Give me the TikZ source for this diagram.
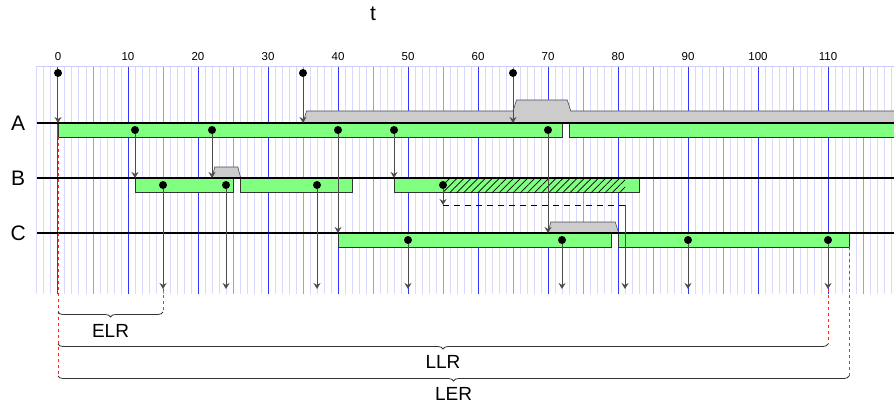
\documentclass[tikz,border=0pt]{standalone}
\usepackage{fontspec}
\setmainfont{Liberation Sans}
\usetikzlibrary{arrows.meta,decorations.pathreplacing,patterns.meta}

\begin{document}
\begin{tikzpicture}[x=7pt,y=-1pt,
  dot/.style={circle,fill,inner sep=0pt,minimum size=8pt},
  arr/.style={-{Stealth[length=6pt,width=7pt]},black!70,line width=1pt},
  bar/.style={draw=black!80,fill=green!50,line width=0.6pt},
  busy/.style={draw=black!70,fill=black!20,line width=0.6pt},
  rowline/.style={line width=1.5pt},
  guide/.style={red!85,dashed,line width=0.8pt},
  brc/.style={decorate,decoration={brace,mirror,amplitude=5pt},black!80,line width=0.8pt},
  big/.style={font=\fontsize{21}{24}\selectfont},
  lbl/.style={font=\fontsize{19}{22}\selectfont},
  tick/.style={font=\fontsize{11.5}{13}\selectfont}]
\useasboundingbox (-58/7,0) rectangle (836/7,409);
\node[big] (t) at (45,14) {t};
\foreach \t in {-3,...,119} \draw[blue!15,line width=1pt] (\t,66) -- (\t,294);
\foreach \t in {5,15,...,115} \draw[blue!40,line width=1pt] (\t,66) -- (\t,294);
\foreach \t in {0,10,...,110}{
  \draw[blue!80,line width=1pt] (\t,66) -- (\t,294);
  \node[tick] (tk\t) at (\t,57) {\t};}
\draw[blue!20] (-3,66) -- (836/7,66);
\draw[busy] (35,123) -- (35.5,111) -- (65,111) -- (65.5,100) -- (72.75,100) -- (73.25,111) -- (120,111) -- (120,123) -- cycle;
\draw[busy] (22,178) -- (22.4,167) -- (25.7,167) -- (26.1,178) -- cycle;
\draw[busy] (70,233) -- (70.4,222) -- (79.6,222) -- (80.1,233) -- cycle;
\draw[bar] (0,123) rectangle (72,137) (73,123) rectangle (120,137);
\draw[bar] (11,178) rectangle (25,192) (26,178) rectangle (42,192) (48,178) rectangle (83,192);
\fill[pattern={Lines[angle=45,distance=5pt,line width=0.7pt]}] (55,178) rectangle (81,192);
\draw[bar] (40,233) rectangle (79,247) (80,233) rectangle (113,247);
\foreach \r/\y in {A/123,B/178,C/233}{
  \node[big] (\r) at (-5.7,\y) {\r};
  \draw[rowline] (-3,\y) -- (836/7,\y);}
\foreach \t in {0,35,65}{
  \node[dot] (s\t) at (\t,73) {};
  \coordinate (se\t) at (\t,123);
  \draw[arr] (s\t) -- (se\t);}
\foreach \t/\y in {11/178,22/178,40/233,48/178,70/233}{
  \node[dot] (a\t) at (\t,130) {};
  \coordinate (ae\t) at (\t,\y);
  \draw[arr] (a\t) -- (ae\t);}
\foreach \t in {15,24,37,55}{
  \node[dot] (b\t) at (\t,185) {};}
\foreach \t in {15,24,37}{
  \coordinate (be\t) at (\t,289);
  \draw[arr] (b\t) -- (be\t);}
\coordinate (d1) at (55,205);
\coordinate (d2) at (81,205);
\coordinate (d3) at (81,289);
\draw[arr] (b55) -- (d1);
\draw[black,dash pattern=on 6pt off 5pt,line width=0.8pt] (d1) -- (d2);
\draw[arr] (d2) -- (d3);
\foreach \t in {50,72,90,110}{
  \node[dot] (c\t) at (\t,240) {};
  \coordinate (ce\t) at (\t,289);
  \draw[arr] (c\t) -- (ce\t);}
\coordinate (g0) at (0,137);
\coordinate (g1) at (0,376);
\coordinate (g2) at (15,312);
\coordinate (g3) at (110,344);
\coordinate (g4) at (113,247);
\coordinate (g5) at (113,376);
\coordinate (g6) at (0,312);
\coordinate (g7) at (0,344);
\draw[guide] (g0) -- (g1);
\draw[guide] (be15) -- (g2);
\draw[guide] (ce110) -- (g3);
\draw[guide] (g4) -- (g5);
\draw[brc] (g6) -- (g2);
\draw[brc] (g7) -- (g3);
\draw[brc] (g1) -- (g5);
\node[lbl] (elr) at (7.5,331) {ELR};
\node[lbl] (llr) at (55,362) {LLR};
\node[lbl] (ler) at (56.5,394) {LER};
\end{tikzpicture}
\end{document}
